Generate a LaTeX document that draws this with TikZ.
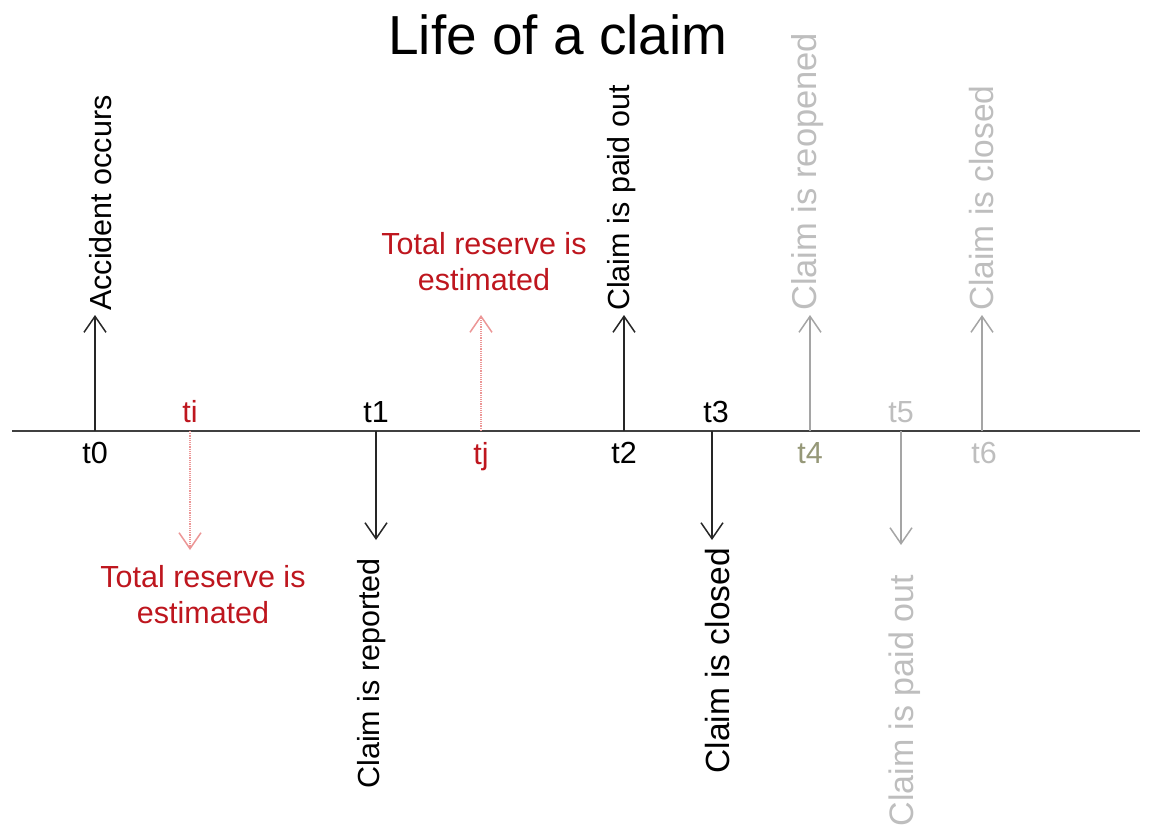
\documentclass[tikz,border=0pt]{standalone}
\usepackage{fontspec}
\setmainfont{Liberation Sans}
\usetikzlibrary{arrows.meta,positioning}
\definecolor{estred}{RGB}{190,22,30}
\definecolor{estpink}{RGB}{236,150,150}
\definecolor{fadetext}{RGB}{190,190,190}
\definecolor{fadeline}{RGB}{165,165,165}
\definecolor{tfour}{RGB}{150,152,120}
\tikzset{
  every node/.style={font=\fontsize{30.5}{36}\selectfont},
  axis/.style={line width=2pt, draw=black!75},
  event/.style={line width=1.5pt, draw=black!85,
    -{Straight Barb[length=16pt,width=22pt,line width=1.5pt]}},
  later/.style={event, draw=fadeline},
  estimate/.style={event, draw=estpink, line width=1.2pt, densely dotted},
  tlabel/.style={inner sep=0pt},
  upside/.style={rotate=90, anchor=west, inner sep=0pt},
  downside/.style={rotate=90, anchor=east, inner sep=0pt},
  bigger/.style={font=\fontsize{#1}{40}\selectfont}
}
\begin{document}
\begin{tikzpicture}[x=1pt,y=-1pt]
  \useasboundingbox (0,0) rectangle (1149,825);

  \node (title) at (558,35) {\fontsize{55}{60}\selectfont Life of a claim};

  % time line
  \coordinate (start) at (12,431);
  \coordinate (end) at (1140,431);
  \draw [axis] (start) -- (end);

  \coordinate (t0) at (95,431);   \coordinate (t0 tip) at (95,315);
  \coordinate (ti) at (190,431);  \coordinate (ti tip) at (190,550);
  \coordinate (t1) at (376,431);  \coordinate (t1 tip) at (376,540);
  \coordinate (tj) at (481,431);  \coordinate (tj tip) at (481,315);
  \coordinate (t2) at (624,431);  \coordinate (t2 tip) at (624,315);
  \coordinate (t3) at (712,431);  \coordinate (t3 tip) at (712,540);
  \coordinate (t4) at (810,431);  \coordinate (t4 tip) at (810,315);
  \coordinate (t5) at (901,431);  \coordinate (t5 tip) at (901,545);
  \coordinate (t6) at (982,431);  \coordinate (t6 tip) at (982,315);

  \node [tlabel, below=11pt of t0] (l0) {t0};
  \node [tlabel, above=8pt of ti, text=estred] (li) {ti};
  \node [tlabel, above=8pt of t1] (l1) {t1};
  \node [tlabel, below=11pt of tj, text=estred] (lj) {tj};
  \node [tlabel, below=11pt of t2] (l2) {t2};
  \node [tlabel, above=8pt of t3, xshift=4pt] (l3) {t3};
  \node [tlabel, below=11pt of t4, text=tfour] (l4) {t4};
  \node [tlabel, above=8pt of t5, text=fadetext] (l5) {t5};
  \node [tlabel, below=11pt of t6, xshift=2pt, text=fadetext] (l6) {t6};

  \draw [event] (t0) -- (t0 tip);
  \draw [estimate] (ti) -- (ti tip);
  \draw [event] (t1) -- (t1 tip);
  \draw [estimate] (tj) -- (tj tip);
  \draw [event] (t2) -- (t2 tip);
  \draw [event] (t3) -- (t3 tip);
  \draw [later] (t4) -- (t4 tip);
  \draw [later] (t5) -- (t5 tip);
  \draw [later] (t6) -- (t6 tip);

  % shifts act in the turned frame: xshift = up, yshift = left
  \node [upside, xshift=4pt, yshift=-6pt] (occurs) at (t0 tip) {Accident occurs};
  \node [downside, xshift=-18pt, yshift=4pt] (reported) at (t1 tip) {Claim is reported};
  \node [upside, xshift=4pt, yshift=2pt] (paid) at (t2 tip) {Claim is paid out};
  \node [downside, bigger=33.5, xshift=-8pt, yshift=-6pt] (closed) at (t3 tip) {Claim is closed};
  \node [upside, bigger=34.5, xshift=4pt, yshift=2pt, text=fadetext] (reopened) at (t4 tip) {Claim is reopened};
  \node [downside, bigger=34, xshift=-30pt, yshift=-4pt, text=fadetext] (paid again) at (t5 tip) {Claim is paid out};
  \node [upside, bigger=33.5, xshift=4pt, text=fadetext] (closed again) at (t6 tip) {Claim is closed};

  \node [align=center, text=estred] (est i) at (203,595) {Total reserve is\\estimated};
  \node [align=center, text=estred] (est j) at (484,262) {Total reserve is\\estimated};
\end{tikzpicture}
\end{document}
